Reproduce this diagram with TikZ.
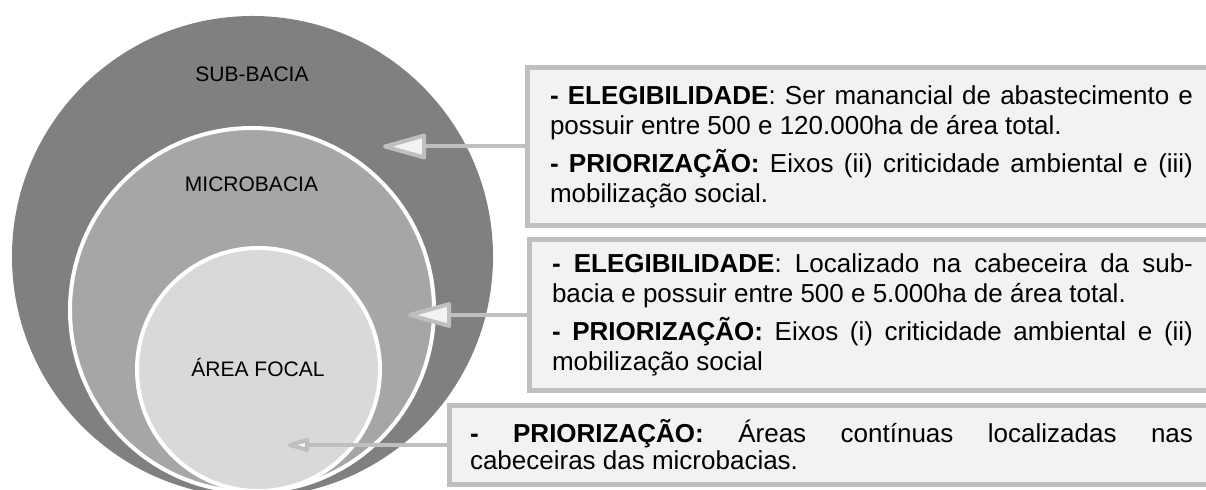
\documentclass[tikz,border=0pt]{standalone}
\usepackage{fontspec}
\setmainfont{Liberation Sans}
\usetikzlibrary{arrows.meta}
\usetikzlibrary{positioning}

\definecolor{subcol}{HTML}{808080}
\definecolor{microcol}{HTML}{A6A6A6}
\definecolor{focalcol}{HTML}{D9D9D9}
\definecolor{boxfill}{HTML}{F2F2F2}
\definecolor{boxline}{HTML}{BFBFBF}

\tikzset{
  infobox/.style={draw=boxline, fill=boxfill, line width=2.5pt, anchor=west,
    inner ysep=0pt, outer sep=0pt, align=justify,
    font=\fontsize{13}{15}\selectfont},
  ringlabel/.style={anchor=base, font=\fontsize{10.5}{12}\selectfont},
  ring/.style={draw=white, line width=2pt},
  pointer/.style={draw=boxline, line width=2pt,
    -{Triangle[round, fill=boxfill, length=24.5pt, width=13pt]}},
}

\begin{document}
\begin{tikzpicture}[x=0.5pt, y=-0.5pt]
    \useasboundingbox (0,0) rectangle (1206,490);

    % nested areas
    \fill[subcol] (252.5,256.5) circle[radius=120.25pt];
    \filldraw[ring, fill=microcol] (252,310) circle[radius=91pt];
    \filldraw[ring, fill=focalcol] (258.5,369.5) circle[radius=60.75pt];

    \node[ringlabel] (sublabel) at (252,82) {SUB-BACIA};
    \node[ringlabel] (microlabel) at (251.5,192) {MICROBACIA};
    \node[ringlabel] (focallabel) at (258,377) {ÁREA FOCAL};

    % criteria boxes
    \node[infobox, text width=321.5pt, inner xsep=11.25pt, minimum height=79pt]
      (subbox) at (527.5,146.5)
      {\textbf{- ELEGIBILIDADE}: Ser manancial de abastecimento e\linebreak
       possuir entre 500 e 120.000ha de área total.\par\vspace{4pt}
       \textbf{- PRIORIZAÇÃO:} Eixos (ii) criticidade ambiental e (iii)\linebreak
       mobilização social.};
    \node[infobox, text width=320.5pt, inner xsep=11.25pt, minimum height=75.5pt]
      (microbox) at (529.5,315)
      {\textbf{- ELEGIBILIDADE}: Localizado na cabeceira da sub-\linebreak
       bacia e possuir entre 500 e 5.000ha de área total.\par\vspace{4pt}
       \textbf{- PRIORIZAÇÃO:} Eixos (i) criticidade ambiental e (ii)\linebreak
       mobilização social};
    \node[infobox, text width=361.5pt, inner xsep=10.25pt, minimum height=39.5pt,
      font=\fontsize{13}{13.5}\selectfont]
      (focalbox) at (449.5,445)
      {\textbf{- PRIORIZAÇÃO:} Áreas contínuas localizadas nas\linebreak
       cabeceiras das microbacias.};

    % pointers
    \coordinate (subtip) at (383,146.5);
    \coordinate (microtip) at (408,315);
    \coordinate (focaltip) at (288,445);
    \draw[pointer] (subbox.west) -- (subtip);
    \draw[pointer] (microbox.west) -- (microtip);
    \draw[pointer, -{Triangle[round, fill=boxfill, length=13.5pt, width=7pt]}]
      (focalbox.west) -- (focaltip);
\end{tikzpicture}
\end{document}
